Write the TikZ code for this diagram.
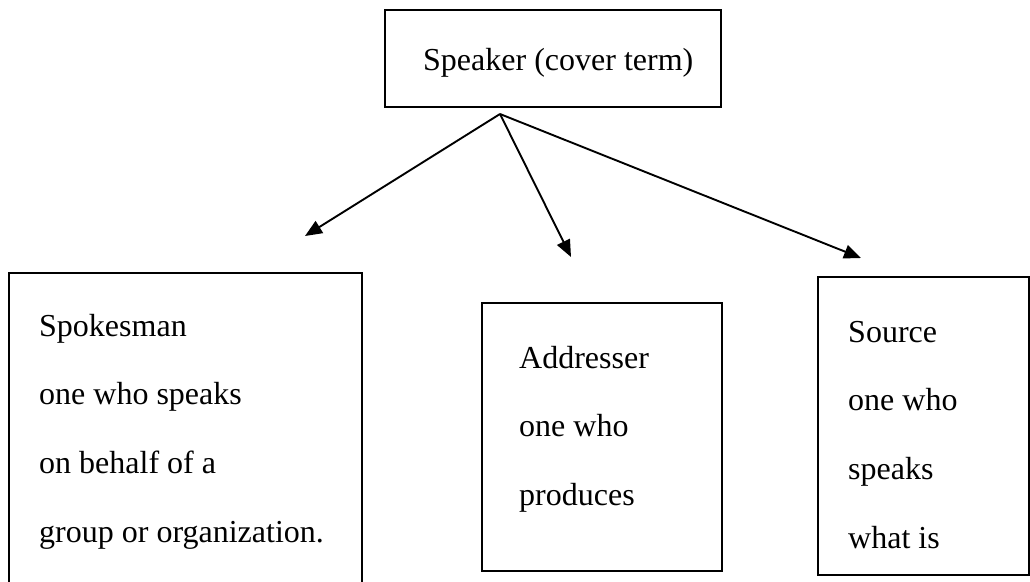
\documentclass[tikz,border=0pt]{standalone}
\usepackage{fontspec}
\setmainfont{Liberation Serif}
\usetikzlibrary{arrows.meta}
\begin{document}
\begin{tikzpicture}[x=1pt,y=-1pt,
  boxstyle/.style={draw,line width=1.9pt,rectangle,inner sep=0pt},
  txtstyle/.style={anchor=base west,inner sep=0pt,align=left,font=\fontsize{32}{68.8}\selectfont},
  arrowstyle/.style={line width=1.9pt,-{Triangle[length=17pt,width=14pt]}}]
\useasboundingbox (0,0) rectangle (1030,581);
\clip (0,0) rectangle (1030,581);
\fill[white] (0,0) rectangle (1030,581);
% boxes
\node[boxstyle,minimum width=336pt,minimum height=97pt] (top) at (553,58.5) {};
\node[boxstyle,minimum width=353pt,minimum height=330pt] (left) at (185.5,438) {};
\node[boxstyle,minimum width=240pt,minimum height=268pt] (mid) at (602,437) {};
\node[boxstyle,minimum width=211pt,minimum height=298pt] (right) at (923.5,426) {};
% texts (anchored at the baseline of the last line)
\node[txtstyle] (toptext) at (423,70) {Speaker (cover term)};
\node[txtstyle] (lefttext) at (39,542.4) {Spokesman\\one who speaks\\on behalf of a\\group or organization.};
\node[txtstyle] (midtext) at (519,505.6) {Addresser\\one who\\produces};
\node[txtstyle] (righttext) at (848,548.4) {Source\\one who\\speaks\\what is};
% connectors
\coordinate (apex) at (500,114);
\coordinate (tipL) at (305,236);
\coordinate (tipM) at (571,257);
\coordinate (tipR) at (861,258);
\draw[arrowstyle] (apex) -- (tipL);
\draw[arrowstyle] (apex) -- (tipM);
\draw[arrowstyle] (apex) -- (tipR);
\end{tikzpicture}
\end{document}
